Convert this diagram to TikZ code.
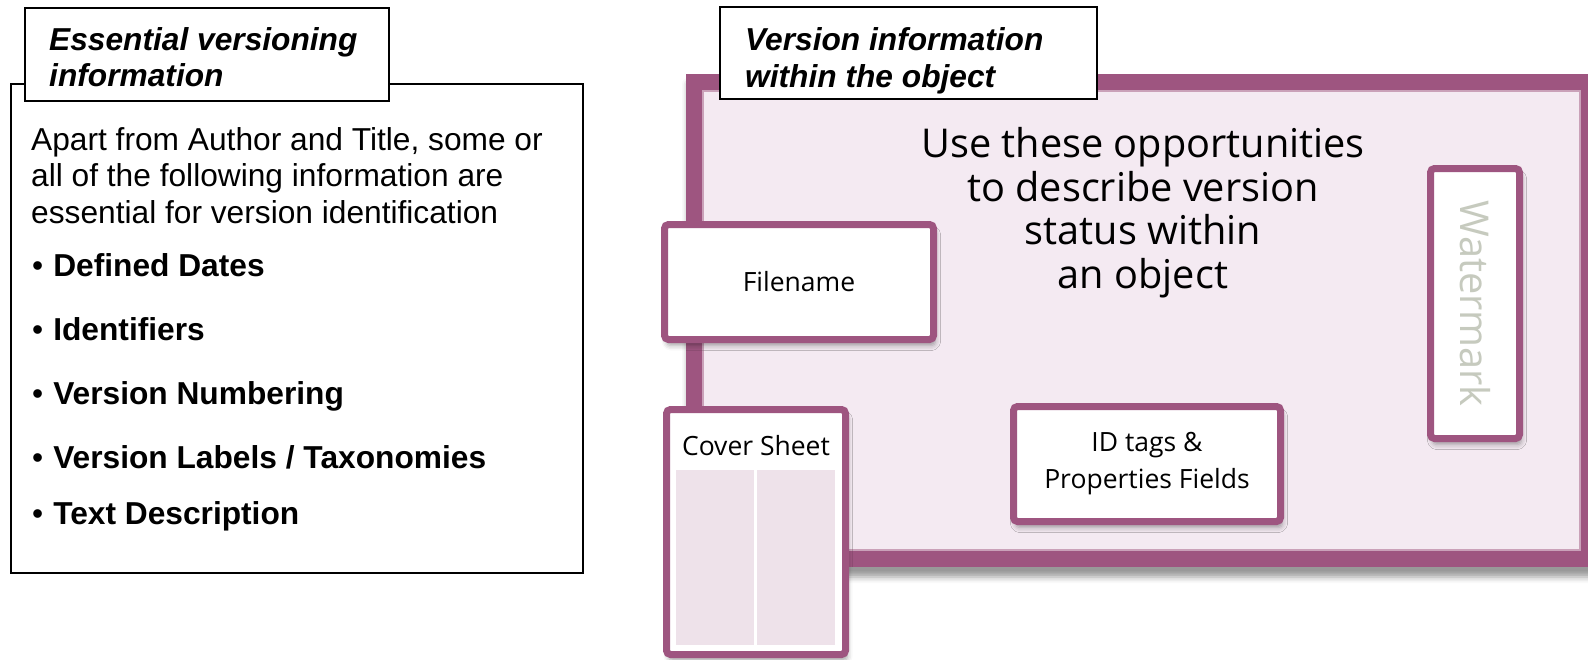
\documentclass[tikz,border=0pt]{standalone}
\usepackage{fontspec}
\setmainfont{Liberation Sans}
\newfontfamily\objfont{Open Sans}
\usetikzlibrary{shadows.blur}

\definecolor{framepurple}{RGB}{158,85,128}
\definecolor{framepink}{RGB}{244,234,242}
\definecolor{panelpink}{RGB}{238,226,234}
\definecolor{markgray}{RGB}{198,202,190}

\tikzset{
    headbox/.style={draw,
        line width=2pt,
        fill=white,
        inner sep=0pt
    },
    objbox/.style={draw=framepurple,
        line width=7pt,
        fill=white,
        rounded corners=4pt,
        inner sep=0pt,
        align=center,
        font=\objfont\fontsize{26.5}{37}\selectfont,
        blur shadow={shadow xshift=2pt,
            shadow yshift=-6pt,
            shadow blur radius=5pt,
            shadow opacity=35}
    },
    bullet/.style={anchor=base west,
        inner sep=0pt,
        font=\fontsize{31.7}{36.5}\selectfont
    }
}

\begin{document}
\begin{tikzpicture}[x=1pt,y=-1pt]

    \useasboundingbox (0,0) rectangle (1588,659);
    \clip (0,0) rectangle (1588,659);

    % left panel
    \node[draw,
        line width=2pt,
        minimum width=572pt,
        minimum height=489pt,
        inner sep=0pt
    ] (essbox) at (297,328.5){};
    \node[headbox,
        minimum width=364pt,
        minimum height=93pt
    ] (esshead) at (207,54){};
    \node[anchor=north west,
        inner sep=0pt,
        align=left,
        font=\fontsize{31.7}{36}\selectfont\bfseries\itshape
    ] (esstitle) at (49,27.5){Essential versioning\\information};
    \node[anchor=north west,
        inner sep=0pt,
        align=left,
        font=\fontsize{31.7}{36.5}\selectfont
    ] (intro) at (31,127.3){Apart from Author and Title, some or\\
        all of the following information are\\
        essential for version identification};
    \node[bullet] (dates) at (32,276.4){\textbullet\hspace{10pt}\textbf{Defined Dates}};
    \node[bullet] (idents) at (32,340.4){\textbullet\hspace{10pt}\textbf{Identifiers}};
    \node[bullet] (numbering) at (32,404.4){\textbullet\hspace{10pt}\textbf{Version Numbering}};
    \node[bullet] (labels) at (32,468.4){\textbullet\hspace{10pt}\textbf{Version Labels / Taxonomies}};
    \node[bullet] (descr) at (32,524.4){\textbullet\hspace{10pt}\textbf{Text Description}};

    % object frame
    \fill[framepurple,
        blur shadow={shadow xshift=2pt,
            shadow yshift=-10pt,
            shadow blur radius=6pt,
            shadow opacity=40}
    ] (686,74) rectangle (1597,567);
    \fill[framepink] (703,91) rectangle (1580,550);
    \draw[framepurple!55, line width=1.2pt] (703,91) rectangle (1580,550);

    \node[headbox,
        minimum width=377pt,
        minimum height=92pt
    ] (objhead) at (908.5,53){};
    \node[anchor=north west,
        inner sep=0pt,
        align=left,
        font=\fontsize{31.7}{36.5}\selectfont\bfseries\itshape
    ] (objtitle) at (745,27.5){Version information\\within the object};

    \node[anchor=north,
        inner sep=0pt,
        align=center,
        font=\objfont\fontsize{39.7}{43.7}\selectfont
    ] (usage) at (1143,127){Use these opportunities\\to describe version\\status within\\an object};

    \node[objbox,
        minimum width=269pt,
        minimum height=115pt
    ] (filename) at (799,282){Filename};

    \node[objbox,
        minimum width=179pt,
        minimum height=245pt
    ] (coversheet) at (756,532){};
    \fill[panelpink] (676,470) rectangle (754,645);
    \fill[panelpink] (757,470) rectangle (835,645);
    \node[inner sep=0pt,
        font=\objfont\fontsize{26.5}{37}\selectfont
    ] (covertitle) at (756,446){Cover Sheet};

    \node[objbox,
        minimum width=267pt,
        minimum height=115pt
    ] (idtags) at (1147,464){ID tags \&\\Properties Fields};

    \node[objbox,
        minimum width=89pt,
        minimum height=270pt
    ] (watermark) at (1475,303.5){};
    \node[rotate=-90,
        inner sep=0pt,
        text=markgray,
        font=\objfont\fontsize{39.7}{44}\selectfont
    ] (marktext) at (watermark.center){Watermark};

\end{tikzpicture}
\end{document}
